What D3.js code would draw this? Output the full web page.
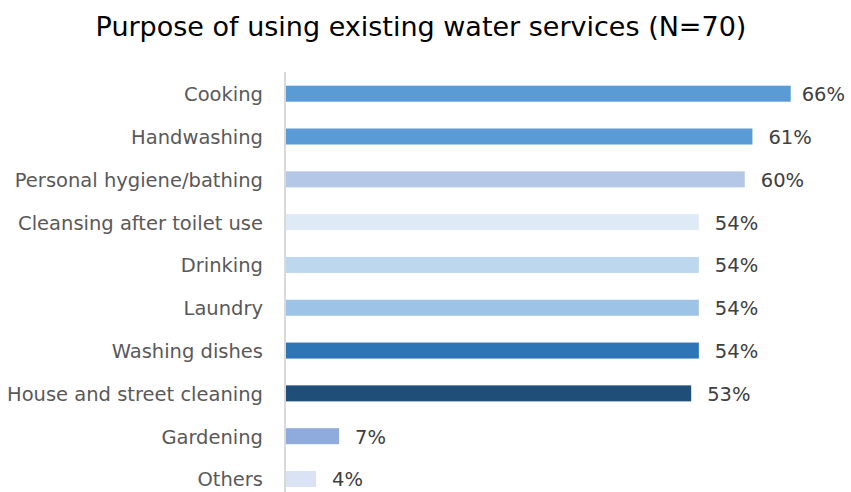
<!DOCTYPE html>
<html>
<head>
<meta charset="utf-8">
<script src="https://cdn.jsdelivr.net/npm/d3@7"></script>
<style>
  html, body { margin: 0; padding: 0; background: #fff; }
  svg { display: block; }
</style>
</head>
<body>
<svg id="chart" width="851" height="492"></svg>
<script>
const categories = ["Cooking", "Handwashing", "Personal hygiene/bathing", "Cleansing after toilet use", "Drinking", "Laundry", "Washing dishes", "House and street cleaning", "Gardening", "Others"];
const values = [66, 61, 60, 54, 54, 54, 54, 53, 7, 4];
const barColors = ["#5b9bd5", "#5b9bd5", "#b4c7e7", "#deebf7", "#bdd7ee", "#9dc3e6", "#2e75b6", "#1f4e79", "#8faadc", "#dae3f3"];
const title = "Purpose of using existing water services (N=70)";

const svg = d3.select("#chart");
const font = "DejaVu Sans, Verdana, sans-serif";

const x = d3.scaleLinear().domain([0, 66]).range([285.5, 790.7]);
const y = d3.scaleBand().domain(categories).range([72.3, 500.4]).paddingInner(0.626).paddingOuter(0.313);

svg.append("text")
  .attr("x", 421).attr("y", 36)
  .attr("text-anchor", "middle")
  .attr("font-family", font).attr("font-size", 27)
  .attr("fill", "#000")
  .text(title);

// bars
svg.append("g").selectAll("rect")
  .data(categories)
  .join("rect")
  .attr("x", x(0))
  .attr("y", d => y(d))
  .attr("width", (d, i) => x(values[i]) - x(0))
  .attr("height", y.bandwidth())
  .attr("fill", (d, i) => barColors[i]);

// axis line + category labels
const yAxis = d3.axisLeft(y).tickSize(0).tickPadding(22);
const gAxis = svg.append("g").attr("transform", `translate(${x(0) - 0.5},0)`).call(yAxis);
gAxis.select(".domain").attr("stroke", "#d9d9d9").attr("stroke-width", 2).attr("d", "M0,72V492");
gAxis.selectAll("text")
  .attr("font-family", font).attr("font-size", 19.5)
  .attr("dy", "0.38em")
  .attr("fill", "#595959");

// value labels
svg.append("g").selectAll("text")
  .data(categories)
  .join("text")
  .attr("x", (d, i) => Math.min(x(values[i]) + 16, 801.7))
  .attr("y", d => y(d) + y.bandwidth() / 2)
  .attr("dy", "0.38em")
  .attr("font-family", font).attr("font-size", 19.5)
  .attr("fill", "#404040")
  .text((d, i) => values[i] + "%");
</script>
</body>
</html>
